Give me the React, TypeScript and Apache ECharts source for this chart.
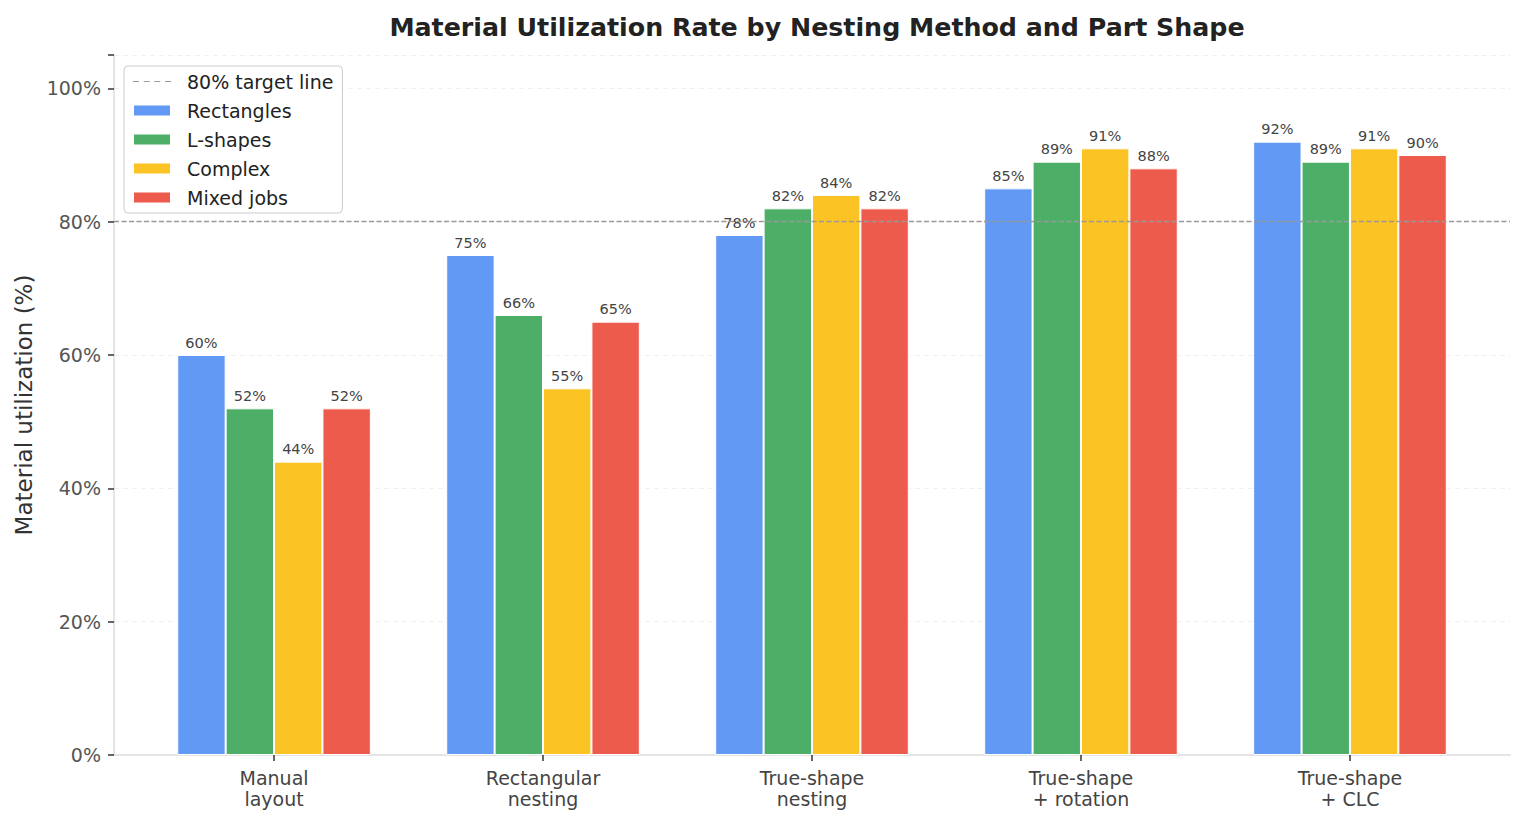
import { useEffect, useRef } from "react";
import * as echarts from "echarts";

const categories = [
  "Manual\nlayout",
  "Rectangular\nnesting",
  "True-shape\nnesting",
  "True-shape\n+ rotation",
  "True-shape\n+ CLC",
];
const rectangles = [60, 75, 78, 85, 92];
const lShapes = [52, 66, 82, 89, 89];
const complex = [44, 55, 84, 91, 91];
const mixedJobs = [52, 65, 82, 88, 90];
const targetValue = 80;
const yTicks = [0, 20, 40, 60, 80, 100];
const categoryPositions = categories.map((_, i) => i);

const FONT = "DejaVu Sans";

function App() {
  const chartRef = useRef(null);

  useEffect(() => {
    const chart = echarts.init(chartRef.current, null, { renderer: "svg" });

    const barSeries = (name: string, data: number[], color: string) => ({
      name,
      type: "bar",
      data: data.map((v, i) => [i, v]),
      barWidth: 48.4,
      barGap: "0%",
      itemStyle: { color, borderColor: "#ffffff", borderWidth: 1 },
      label: {
        show: true,
        position: "top",
        distance: 5,
        formatter: (p: any) => p.value[1] + "%",
        fontFamily: FONT,
        fontSize: 14.5,
        color: "#444444",
      },
    });

    const option = {
      animation: false,
      textStyle: { fontFamily: FONT },
      title: {
        text: "Material Utilization Rate by Nesting Method and Part Shape",
        left: 812,
        textAlign: "center",
        top: 10,
        textStyle: { fontFamily: FONT, fontSize: 25.3, fontWeight: "bold", color: "#222222" },
      },
      legend: {
        orient: "vertical",
        left: 124,
        top: 66,
        padding: [6, 9, 6, 8],
        itemGap: 10,
        itemWidth: 38,
        itemHeight: 12,
        backgroundColor: "#ffffff",
        borderColor: "#cccccc",
        borderWidth: 1,
        borderRadius: 4,
        textStyle: { fontFamily: FONT, fontSize: 19, color: "#222222", padding: [0, 0, 0, 11] },
        data: [
          {
            name: "80% target line",
            icon: "path://M0,0 h6 v1.2 h-6 z M10.5,0 h6 v1.2 h-6 z M21,0 h6 v1.2 h-6 z M31.5,0 h6 v1.2 h-6 z",
            itemStyle: { color: "#999999" },
          },
          { name: "Rectangles", icon: "rect" },
          { name: "L-shapes", icon: "rect" },
          { name: "Complex", icon: "rect" },
          { name: "Mixed jobs", icon: "rect" },
        ],
      },
      grid: { left: 114, right: 13, top: 55, bottom: 69 },
      xAxis: {
        type: "value",
        min: -0.595,
        max: 4.595,
        splitLine: { show: false },
        axisLine: { show: true, onZero: false, lineStyle: { color: "#dddddd", width: 1.5 } },
        axisTick: {
          show: true,
          customValues: categoryPositions,
          length: 6,
          lineStyle: { color: "#333333", width: 1.5 },
        },
        axisLabel: {
          customValues: categoryPositions,
          formatter: (v: number) => categories[Math.round(v)] ?? "",
          fontFamily: FONT,
          fontSize: 19,
          color: "#444444",
          lineHeight: 21,
          margin: 12,
        },
      },
      yAxis: {
        type: "value",
        min: 0,
        max: 105,
        interval: 20,
        name: "Material utilization (%)",
        nameLocation: "middle",
        nameGap: 79,
        nameTextStyle: { fontFamily: FONT, fontSize: 23, color: "#333333" },
        axisLine: { show: true, onZero: false, lineStyle: { color: "#dddddd", width: 1.5 } },
        axisTick: { show: true, length: 6, lineStyle: { color: "#333333", width: 1.5 } },
        axisLabel: {
          fontFamily: FONT,
          fontSize: 19,
          color: "#555555",
          margin: 13,
          formatter: (v: number) => (yTicks.includes(v) ? v + "%" : ""),
        },
        splitLine: { lineStyle: { color: "#f0f0f0", type: [5, 4], width: 1 } },
      },
      series: [
        {
          name: "80% target line",
          type: "line",
          data: [],
          itemStyle: { color: "#999999" },
          lineStyle: { color: "#999999", type: "dashed" },
          markLine: {
            silent: true,
            symbol: "none",
            label: { show: false },
            lineStyle: { color: "#999999", type: [5, 2.5], width: 1.3 },
            data: [{ yAxis: targetValue }],
          },
        },
        barSeries("Rectangles", rectangles, "#6199f5"),
        barSeries("L-shapes", lShapes, "#4daf67"),
        barSeries("Complex", complex, "#fbc324"),
        barSeries("Mixed jobs", mixedJobs, "#ed5b4c"),
      ],
    };

    chart.setOption(option);
    return () => {
      chart.dispose();
    };
  }, []);

  return (
    <div
      ref={chartRef}
      style={{ position: "fixed", left: 0, top: 0, width: "1523px", height: "824px", background: "#ffffff" }}
    ></div>
  );
}

export default App;
